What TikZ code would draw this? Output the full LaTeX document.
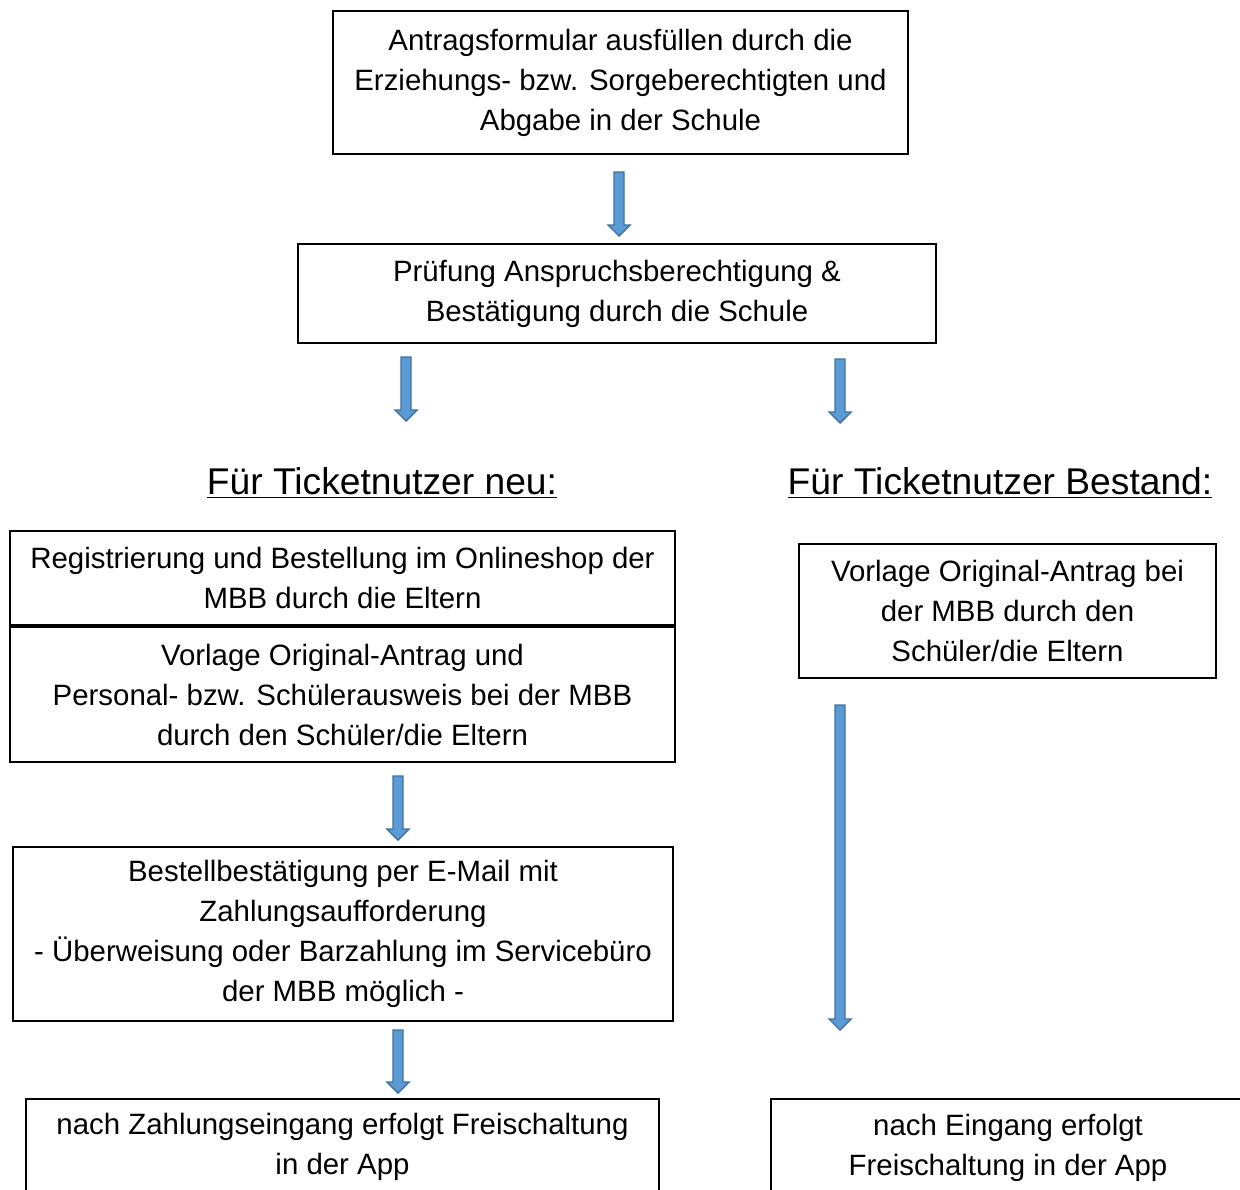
\documentclass[tikz,border=0pt]{standalone}
\usepackage{fontspec}
\setmainfont{Liberation Sans}
\usetikzlibrary{calc}
\definecolor{arrowfill}{HTML}{5B9BD5}
\definecolor{arrowline}{HTML}{41719C}
\tikzset{
	box/.style={draw=black, line width=0.75pt, align=center, inner sep=0pt, font=\fontsize{14.7}{20}\selectfont},
	heading/.style={align=center, font=\fontsize{18.6}{22}\selectfont},
	blockarrow/.style={fill=arrowfill, draw=arrowline, line width=0.7pt, line join=miter},
}
\begin{document}
\begin{tikzpicture}[
		x=0.5pt,
		y=-0.5pt,
	]
	\clip (0,0) rectangle (1240,1189);
	\fill[white] (0,0) rectangle (1240,1189);

	% upper part
	\node[box, minimum width=287.5pt, minimum height=71.5pt] (antrag) at (620.5,82.5) {Antragsformular ausfüllen durch die\\Erziehungs- bzw. Sorgeberechtigten und\\Abgabe in der Schule};
	\node[box, minimum width=319pt, minimum height=49.5pt] (pruefung) at (617,293.5) {Prüfung Anspruchsberechtigung \&\\Bestätigung durch die Schule};

	\node[heading] (neu) at (382,483) {\underline{Für Ticketnutzer neu:}};
	\node[heading] (bestand) at (1000,483) {\underline{Für Ticketnutzer Bestand:}};

	% left column
	\node[box, minimum width=332.5pt, minimum height=47pt] (registrierung) at (342.5,578) {Registrierung und Bestellung im Onlineshop der\\MBB durch die Eltern};
	\node[box, minimum width=332.5pt, minimum height=67.5pt] (vorlageneu) at (342.5,694.5) {Vorlage Original-Antrag und\\Personal- bzw. Schülerausweis bei der MBB\\durch den Schüler/die Eltern};
	\node[box, minimum width=330pt, minimum height=87pt] (bestaetigung) at (343,934) {Bestellbestätigung per E-Mail mit\\Zahlungsaufforderung\\- Überweisung oder Barzahlung im Servicebüro\\der MBB möglich -};
	\node[box, minimum width=316.5pt, minimum height=48pt] (freineu) at (342.5,1147) {nach Zahlungseingang erfolgt Freischaltung\\in der App};

	% right column
	\node[box, minimum width=208.5pt, minimum height=67pt] (vorlagebestand) at (1007.5,611) {Vorlage Original-Antrag bei\\der MBB durch den\\Schüler/die Eltern};
	\node[box, minimum width=237pt, minimum height=49pt] (freibestand) at (1008,1148) {nach Eingang erfolgt\\Freischaltung in der App};

	% arrows
	\coordinate (a1s) at (619,172);  \coordinate (a1e) at (619,236);
	\coordinate (a2s) at (406,357);  \coordinate (a2e) at (406,421);
	\coordinate (a3s) at (840,359);  \coordinate (a3e) at (840,423);
	\coordinate (a4s) at (398,776);  \coordinate (a4e) at (398,840);
	\coordinate (a5s) at (398,1030); \coordinate (a5e) at (398,1093);
	\coordinate (a6s) at (840,705);  \coordinate (a6e) at (840,1030);

	\foreach \s/\e in {a1s/a1e, a2s/a2e, a3s/a3e, a4s/a4e, a5s/a5e, a6s/a6e}{
		\draw[blockarrow] ($(\s)+(-5,0)$) -- ($(\e)+(-5,-11)$) -- ($(\e)+(-11,-11)$) -- (\e) -- ($(\e)+(11,-11)$) -- ($(\e)+(5,-11)$) -- ($(\s)+(5,0)$) -- cycle;
	}
\end{tikzpicture}
\end{document}
